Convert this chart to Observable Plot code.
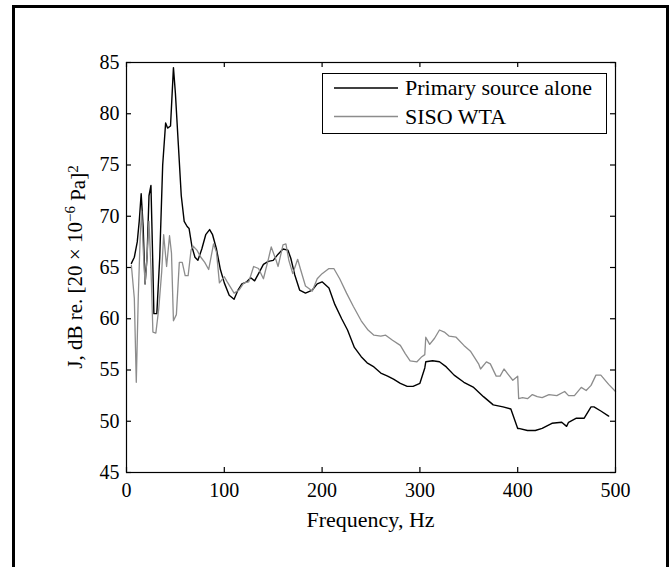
<!DOCTYPE html>
<html>
<head>
<meta charset="utf-8">
<script src="https://cdn.jsdelivr.net/npm/d3@7"></script>
<script src="https://cdn.jsdelivr.net/npm/@observablehq/plot@0.6"></script>
<style>
  html, body { margin: 0; padding: 0; background: #fff; }
  #wrap { position: relative; width: 672px; height: 567px; overflow: hidden; }
  #border { position: absolute; left: 12px; top: 5px; width: 651px; height: 600px; border: 3px solid #000; box-sizing: content-box; }
  #chart { position: absolute; left: 0; top: 0; }
</style>
</head>
<body>
<div id="wrap"><div id="border"></div><div id="chart"></div></div>
<script>
// Series names
const seriesNames = ["Primary source alone", "SISO WTA"];

// Primary source alone (black)
const primaryFreq = [5,8,11,13,15,17,19,21,23,25,27,28,31,34,37,40,42,45,48,50,53,56,59,62,64,67,70,73,77,81,85,88,92,96,100,105,110,114,118,123,127,131,135,140,145,150,155,160,165,168,172,177,183,190,195,200,207,213,220,226,233,240,246,253,260,267,273,280,287,293,300,305,306,313,320,327,335,345,355,365,375,385,393,400,401,410,418,425,435,445,450,452,460,468,475,478,485,493,500];
const primaryDb   = [65.4,66,67.5,69.5,72.2,69,63.4,66,72,73,65,60.5,60.5,66,75,79.1,78.6,78.8,84.5,82,77,72,69.5,69,68.8,67,66,65.7,66.8,68.2,68.7,68.2,66.8,64.8,63.5,62.3,61.9,62.8,63.4,63.6,64,63.7,64.4,65.3,65.6,65.7,66.3,66.8,66.7,65.9,64.3,62.8,62.5,62.8,63.4,63.6,63.0,61.4,60,58.9,57.2,56.3,55.7,55.3,54.7,54.4,54.1,53.7,53.4,53.4,53.7,55.2,55.8,55.9,55.8,55.3,54.5,53.8,53.3,52.4,51.6,51.4,51.2,49.3,49.3,49.1,49.1,49.3,49.8,49.9,49.5,49.9,50.3,50.3,51.4,51.4,51.0,50.5];

// SISO WTA (grey)
const sisoFreq = [5,8,10,12,14,15.5,17,19,21,23,25,27,30,33,36,38,41,44,46,48,51,54,57,60,63,66,68,72,76,80,84,86,89,92,95,100,103,110,115,120,125,130,135,140,145,148,153,155,160,163,166,170,175,178,183,190,195,200,207,212,218,225,232,240,247,253,260,265,272,280,285,290,297,302,305,306,310,315,320,325,330,337,345,352,360,362,368,372,378,382,386,390,395,400,401,405,410,415,420,425,432,440,448,452,458,465,470,475,480,485,493,500];
const sisoDb   = [65.2,62,53.8,62,68,70.5,67,63.4,66,69.5,65,58.7,58.6,61,64.6,68.2,65.1,68.1,66.4,59.8,60.4,65.5,65.5,64.2,64.2,66.7,67.1,66.7,66.0,65.5,64.8,65.8,67.3,66.5,63.5,64.1,63.6,62.5,62.8,63.5,63.6,65.1,64.9,63.9,65.8,67,65.7,65.1,67.2,67.3,65.7,64.4,65.8,64.8,63.2,62.7,63.9,64.4,64.9,64.9,63.9,62.5,61.2,59.8,58.9,58.4,58.3,58.4,57.9,57.4,56.6,55.9,55.8,56.3,56.5,58.2,57.5,58.1,58.9,58.7,58.3,58.2,57.4,56.8,55.6,55.1,55.8,55.6,54.4,54.4,55.1,54.6,54.0,54.4,52.2,52.3,52.2,52.6,52.4,52.3,52.6,52.5,52.9,52.5,52.5,53.3,53.0,53.5,54.5,54.5,53.6,52.9];

// Tick values
const xTicks = [0,100,200,300,400,500];
const yTicks = [45,50,55,60,65,70,75,80,85];

const primary = primaryFreq.map((f, i) => ({f, v: primaryDb[i]}));
const siso = sisoFreq.map((f, i) => ({f, v: sisoDb[i]}));

const W = 672, H = 567, mL = 126, mR = 57, mT = 62, mB = 95;
const innerW = W - mL - mR, innerH = H - mT - mB;
const font = "'Liberation Serif', 'Times New Roman', serif";
const tk = 5;

const plot = Plot.plot({
  width: W, height: H,
  marginLeft: mL, marginRight: mR, marginTop: mT, marginBottom: mB,
  style: {fontFamily: font, fontSize: "20px", color: "#000", background: "transparent"},
  x: {domain: [0, 500], label: null},
  y: {domain: [45, 85], label: null},
  marks: [
    Plot.axisX(xTicks, {anchor: "bottom", tickSize: 0, tickPadding: 10, label: null}),
    Plot.axisY(yTicks, {anchor: "left", tickSize: 0, tickPadding: 7, label: null}),
    // inward ticks on all four sides (MATLAB box style)
    Plot.tickX(xTicks, {x: d => d, insetTop: innerH - tk, stroke: "#000", strokeWidth: 1.2}),
    Plot.tickX(xTicks, {x: d => d, insetBottom: innerH - tk, stroke: "#000", strokeWidth: 1.2}),
    Plot.tickY(yTicks, {y: d => d, insetRight: innerW - tk, stroke: "#000", strokeWidth: 1.2}),
    Plot.tickY(yTicks, {y: d => d, insetLeft: innerW - tk, stroke: "#000", strokeWidth: 1.2}),
    Plot.line(primary, {x: "f", y: "v", stroke: "#000", strokeWidth: 1.4}),
    Plot.line(siso, {x: "f", y: "v", stroke: "#8c8c8c", strokeWidth: 1.3}),
    Plot.frame({stroke: "#000", strokeWidth: 1.2})
  ]
});

document.getElementById("chart").appendChild(plot);

const svg = d3.select(plot);
const cx = mL + innerW / 2;
const cy = mT + innerH / 2;

// x axis title
svg.append("text")
  .attr("x", cx).attr("y", 527)
  .attr("text-anchor", "middle")
  .style("font-family", font).style("font-size", "22px").attr("fill", "#000")
  .text("Frequency, Hz");

// y axis title with superscripts
const yl = svg.append("text")
  .attr("transform", `translate(82,${cy}) rotate(-90)`)
  .attr("text-anchor", "middle")
  .style("font-family", font).style("font-size", "21px").attr("fill", "#000");
yl.append("tspan").text("J, dB re. [20 \u00D7 10");
yl.append("tspan").attr("dy", "-0.45em").style("font-size", "15px").text("\u22126");
yl.append("tspan").attr("dy", "0.45em").text(" Pa]");
yl.append("tspan").attr("dy", "-0.45em").style("font-size", "15px").text("2");

// legend
const lg = svg.append("g");
lg.append("rect").attr("x", 322.5).attr("y", 73.5).attr("width", 284).attr("height", 60)
  .attr("fill", "#fff").attr("stroke", "#000").attr("stroke-width", 1);
const legendColors = ["#000", "#8c8c8c"];
const legendWidths = [1.6, 1.3];
seriesNames.forEach((name, i) => {
  const y = 88 + i * 28.5;
  lg.append("line").attr("x1", 334).attr("x2", 398).attr("y1", y).attr("y2", y)
    .attr("stroke", legendColors[i]).attr("stroke-width", legendWidths[i]);
  lg.append("text").attr("x", 405).attr("y", y + 7)
    .attr("text-anchor", "start")
    .style("font-family", font).style("font-size", "22px").attr("fill", "#000")
    .text(name);
});
</script>
</body>
</html>
